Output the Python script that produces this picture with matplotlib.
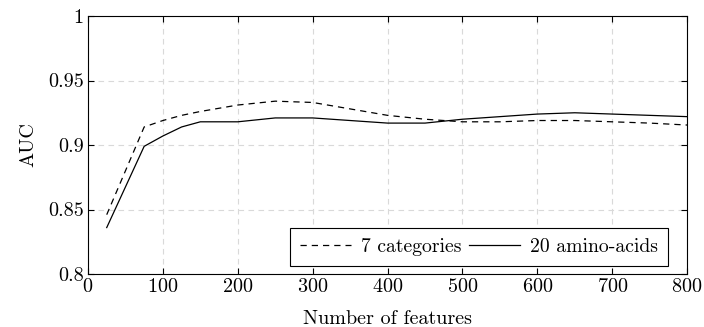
import matplotlib
matplotlib.use("Agg")
import matplotlib.pyplot as plt

plt.rcParams['font.family'] = 'serif'
plt.rcParams['font.serif'] = ['cmr10']
plt.rcParams['mathtext.fontset'] = 'cm'
plt.rcParams['axes.formatter.use_mathtext'] = True

features = [25, 75, 100, 125, 150, 200, 250, 300, 350, 400, 450,
            500, 550, 600, 650, 700, 750, 800]
auc_7cat = [0.846, 0.914, 0.919, 0.923, 0.926, 0.931, 0.934, 0.933, 0.928,
            0.923, 0.920, 0.918, 0.918, 0.919, 0.919, 0.918, 0.917, 0.9155]
auc_20aa = [0.836, 0.899, 0.907, 0.914, 0.918, 0.918, 0.921, 0.921, 0.919,
            0.917, 0.917, 0.920, 0.922, 0.924, 0.925, 0.924, 0.923, 0.922]

fs = 14.5

fig = plt.figure(figsize=(7.04, 3.27), dpi=100)
ax = fig.add_axes([0.125, 0.162, 0.851, 0.789])

ax.plot(features, auc_7cat, color='black', linestyle=(0, (5, 4)), linewidth=0.9,
        label='7 categories')
ax.plot(features, auc_20aa, color='black', linestyle='-', linewidth=0.9,
        label='20 amino-acids')

ax.set_xlim(0, 800)
ax.set_ylim(0.8, 1.0)
ax.set_xticks(range(0, 801, 100))
ax.set_yticks([0.8, 0.85, 0.9, 0.95, 1.0])
ax.set_yticklabels(['0.8', '0.85', '0.9', '0.95', '1'])
ax.tick_params(direction='in', top=True, right=True, labelsize=fs, length=4, pad=3)
ax.grid(True, color='#d9d9d9', linestyle=(0, (5, 4)), linewidth=0.8)
ax.set_axisbelow(True)
for s in ax.spines.values():
    s.set_linewidth(0.8)

ax.set_xlabel('Number of features', fontsize=fs, labelpad=10)
ax.set_ylabel('AUC', fontsize=fs, labelpad=8)

leg = ax.legend(loc='lower right', ncol=2, fontsize=14.2, frameon=True,
                fancybox=False, edgecolor='black', framealpha=1,
                handlelength=2.6, handletextpad=0.5, columnspacing=0.4,
                borderpad=0.5, borderaxespad=0,
                bbox_to_anchor=(0.968, 0.031))
leg.get_frame().set_linewidth(0.8)

fig.savefig('out.png', dpi=100)
